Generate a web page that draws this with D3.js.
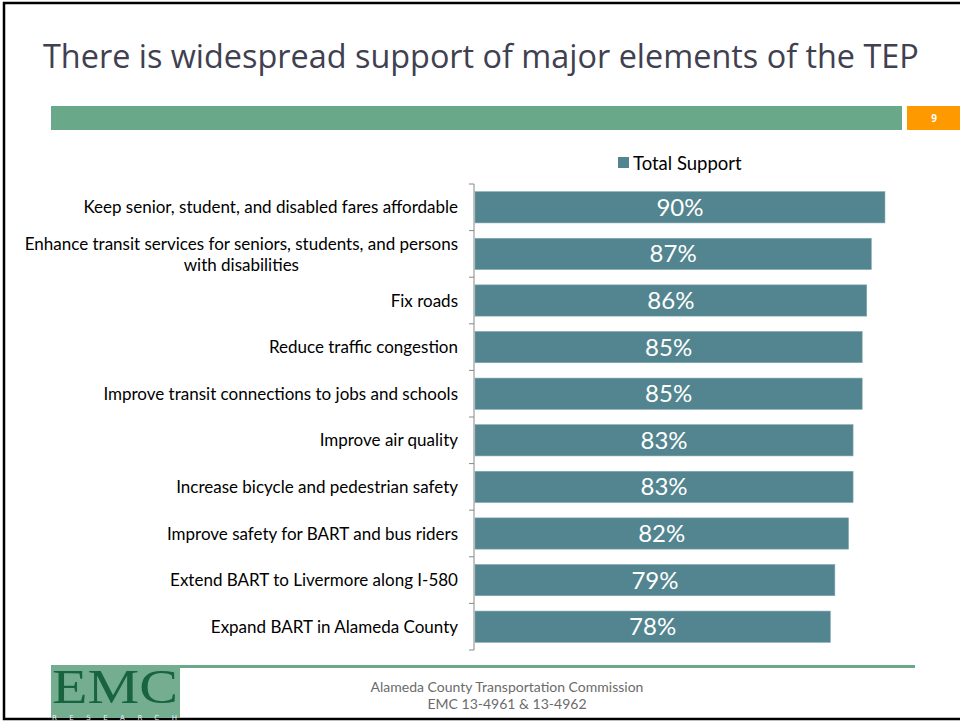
<!DOCTYPE html>
<html>
<head>
<meta charset="utf-8">
<script src="https://cdn.jsdelivr.net/npm/d3@7"></script>
<style>
  html, body { margin: 0; padding: 0; background: #fff; }
  svg { display: block; }
</style>
</head>
<body>
<svg id="chart" width="960" height="721"></svg>
<script>
// Survey results: share of voters supporting each element of the plan
const categories = [
  "Keep senior, student, and disabled fares affordable",
  "Enhance transit services for seniors, students, and persons|with disabilities",
  "Fix roads",
  "Reduce traffic congestion",
  "Improve transit connections to jobs and schools",
  "Improve air quality",
  "Increase bicycle and pedestrian safety",
  "Improve safety for BART and bus riders",
  "Extend BART to Livermore along I-580",
  "Expand BART in Alameda County"
];
const totalSupport = [90, 87, 86, 85, 85, 83, 83, 82, 79, 78];
const seriesName = "Total Support";
const titleText = "There is widespread support of major elements of the TEP";
const pageNumber = "9";
const footerLines = ["Alameda County Transportation Commission", "EMC 13-4961 & 13-4962"];

const svg = d3.select("#chart");
const labelFont = "Lato, 'Open Sans', sans-serif";

// Slide frame
svg.append("rect").attr("x", 4).attr("y", 3).attr("width", 970).attr("height", 716)
  .attr("fill", "none").attr("stroke", "#000").attr("stroke-width", 2.5);

// Title
svg.append("text").attr("x", 43).attr("y", 68)
  .attr("font-family", "'Open Sans', sans-serif").attr("font-size", 32.4)
  .attr("fill", "#404050").text(titleText);

// Header band and page badge
svg.append("rect").attr("x", 51).attr("y", 106).attr("width", 851).attr("height", 24).attr("fill", "#6aa88a");
svg.append("rect").attr("x", 907).attr("y", 106).attr("width", 60).attr("height", 24).attr("fill", "#ff9900");
svg.append("text").attr("x", 934).attr("y", 122).attr("text-anchor", "middle")
  .attr("font-family", "'Open Sans', sans-serif").attr("font-size", 10).attr("font-weight", "bold")
  .attr("fill", "#fff").text(pageNumber);

// Scales
const x = d3.scaleLinear().domain([0, 100]).range([475, 930.5]);
const y = d3.scaleBand().domain(categories).range([184, 650]).paddingInner(0.33).paddingOuter(0.165);

// Category axis
const axisG = svg.append("g").attr("transform", `translate(${474},0)`);
axisG.append("line").attr("x1", 0).attr("x2", 0).attr("y1", 184).attr("y2", 650)
  .attr("stroke", "#888").attr("stroke-width", 1);
d3.range(categories.length + 1).forEach(i => {
  const ty = 184 + i * (650 - 184) / categories.length;
  axisG.append("line").attr("x1", -5).attr("x2", 0).attr("y1", ty).attr("y2", ty)
    .attr("stroke", "#888").attr("stroke-width", 1);
});

// Bars
svg.append("g").selectAll("rect").data(totalSupport).join("rect")
  .attr("x", x(0))
  .attr("y", (d, i) => y(categories[i]))
  .attr("width", d => x(d) - x(0))
  .attr("height", y.bandwidth())
  .attr("fill", "#52858f")
  .attr("stroke", "#7fa5ad").attr("stroke-width", 0.6);

// Value labels
svg.append("g").selectAll("text").data(totalSupport).join("text")
  .attr("x", d => (x(0) + x(d)) / 2)
  .attr("y", (d, i) => y(categories[i]) + y.bandwidth() / 2 + 8.5)
  .attr("text-anchor", "middle")
  .attr("font-family", labelFont).attr("font-size", 24)
  .attr("fill", "#fff").text(d => d + "%");

// Category labels (right aligned; wrapped lines centred under the first)
const labelX = 458;
const labelSize = 17;
categories.forEach((c, i) => {
  const lines = c.split("|");
  const cy = y(c) + y.bandwidth() / 2;
  if (lines.length === 1) {
    svg.append("text").attr("x", labelX).attr("y", cy + 6).attr("text-anchor", "end")
      .attr("font-family", labelFont).attr("font-size", labelSize).attr("fill", "#000").text(lines[0]);
  } else {
    const first = svg.append("text").attr("x", labelX).attr("y", cy - 4).attr("text-anchor", "end")
      .attr("font-family", labelFont).attr("font-size", labelSize).attr("fill", "#000").text(lines[0]);
    const w = first.node().getComputedTextLength();
    svg.append("text").attr("x", labelX - w / 2).attr("y", cy + 17).attr("text-anchor", "middle")
      .attr("font-family", labelFont).attr("font-size", labelSize).attr("fill", "#000").text(lines[1]);
  }
});

// Legend
svg.append("rect").attr("x", 618).attr("y", 157).attr("width", 11).attr("height", 11).attr("fill", "#52858f");
svg.append("text").attr("x", 633).attr("y", 170)
  .attr("font-family", labelFont).attr("font-size", 18.5).attr("fill", "#000").text(seriesName);

// Footer rule
svg.append("rect").attr("x", 180).attr("y", 665).attr("width", 735).attr("height", 3).attr("fill", "#6aa88a");

// Logo block
svg.append("rect").attr("x", 51).attr("y", 665).attr("width", 129).attr("height", 53).attr("fill", "#74ad90");
svg.append("text").attr("x", 115).attr("y", 703).attr("text-anchor", "middle")
  .attr("font-family", "'Liberation Serif', serif").attr("font-size", 48)
  .attr("textLength", 126).attr("lengthAdjust", "spacingAndGlyphs")
  .attr("fill", "#17643f").text("EMC");
svg.append("text").attr("x", 52).attr("y", 720)
  .attr("font-family", "'DejaVu Sans', sans-serif").attr("font-size", 7)
  .attr("textLength", 125).attr("fill", "#e8f2ec").text("RESEARCH");

// Footer text
footerLines.forEach((t, i) => {
  svg.append("text").attr("x", 507).attr("y", 692 + i * 17).attr("text-anchor", "middle")
    .attr("font-family", labelFont).attr("font-size", 14).attr("fill", "#6b6b6b").text(t);
});
</script>
</body>
</html>
